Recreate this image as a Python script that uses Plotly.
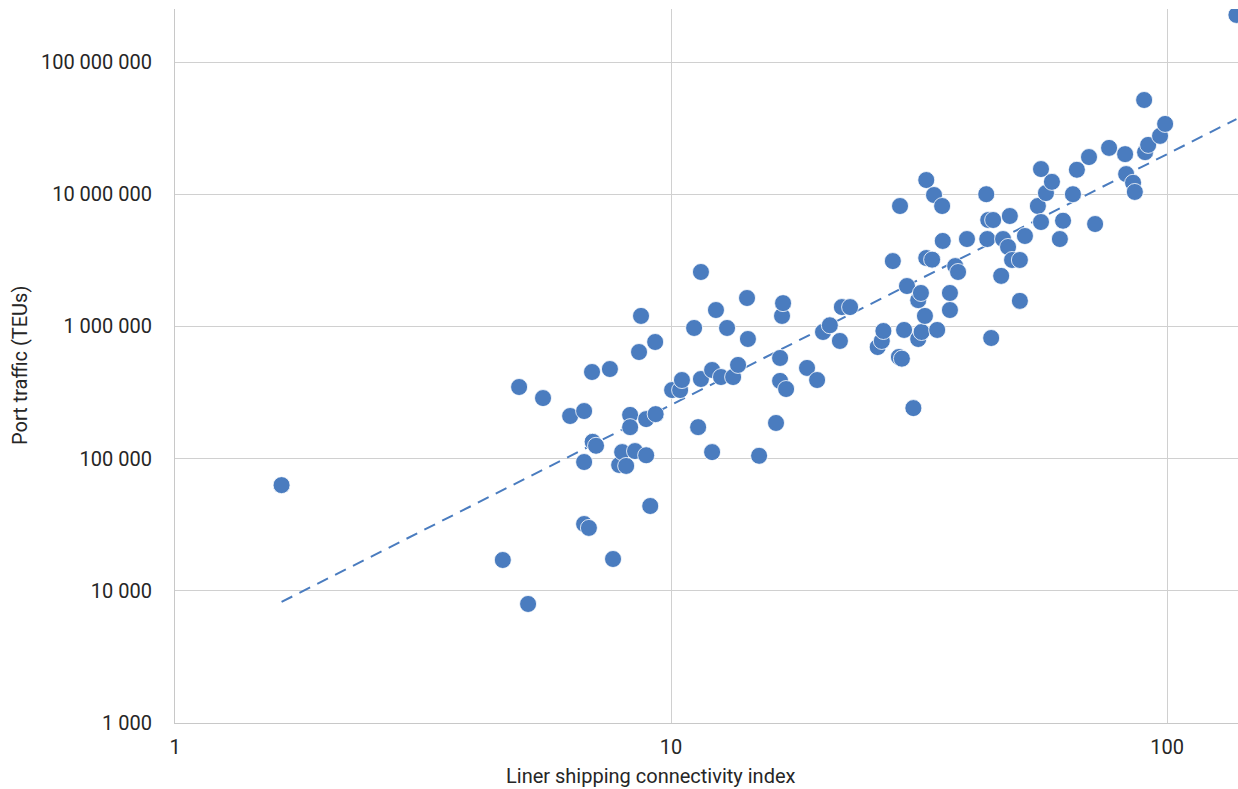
import numpy as np
import plotly.graph_objects as go

# Liner shipping connectivity index (x) vs port traffic in TEUs (y)
lsci = [1.64, 4.58, 4.94, 5.15, 5.52, 6.26, 6.68, 6.68, 6.68, 6.83,
        6.93, 6.95, 7.06, 7.53, 7.64, 7.86, 7.97, 8.12, 8.27, 8.27,
        8.46, 8.62, 8.70, 8.91, 8.91, 9.08, 9.29, 9.31, 10.05, 10.43,
        10.52, 11.13, 11.34, 11.49, 11.49, 12.1, 12.1, 12.32, 12.61, 12.97,
        13.34, 13.65, 14.23, 14.29, 15.05, 16.28, 16.59, 16.59, 16.74, 16.82,
        17.06, 18.8, 19.7, 20.25, 20.9, 21.9, 22.1, 22.96, 26.1, 26.6,
        26.8, 28.0, 28.8, 29.2, 28.95, 29.5, 29.9, 30.8, 31.5, 31.5,
        31.9, 32.0, 32.5, 32.7, 32.7, 33.6, 33.9, 34.4, 35.2, 35.3,
        36.5, 36.5, 37.4, 37.9, 39.5, 43.2, 43.4, 43.6, 44.6, 44.2,
        46.3, 46.7, 47.8, 48.2, 48.7, 50.5, 50.5, 51.7, 54.9, 55.7,
        55.7, 57.0, 58.6, 60.8, 61.7, 64.6, 65.8, 69.6, 71.6, 76.4,
        82.3, 82.7, 85.4, 86.1, 89.9, 90.3, 91.6, 96.8, 99.1, 138]

teu = [63000, 17100, 348000, 7950, 287000, 210000, 229000, 94200, 32000, 29900,
       452000, 134000, 125000, 476000, 17400, 89500, 112000, 88000, 214000, 173000,
       114000, 640000, 1200000, 106000, 199000, 43800, 762000, 217000, 330000, 330000,
       393000, 973000, 173000, 2580000, 400000, 468000, 112000, 1330000, 414000, 973000,
       414000, 511000, 1640000, 803000, 105000, 186000, 577000, 387000, 1200000, 1500000,
       336000, 485000, 393000, 907000, 1020000, 776000, 1400000, 1400000, 698000, 776000,
       923000, 3120000, 587000, 570000, 8140000, 940000, 2020000, 241000, 1580000, 803000,
       1790000, 907000, 1200000, 12800000, 3290000, 3200000, 9860000, 940000, 8140000, 4430000,
       1790000, 1330000, 2860000, 2580000, 4580000, 10000000, 4580000, 6380000, 6380000, 817000,
       2410000, 4580000, 3990000, 6840000, 3180000, 1560000, 3180000, 4830000, 8140000, 15500000,
       6160000, 10200000, 12400000, 4580000, 6300000, 10000000, 15300000, 19100000, 5950000, 22400000,
       20100000, 14200000, 12200000, 10400000, 51600000, 20800000, 23600000, 27600000, 34000000, 227000000]

x_ticks = [1, 10, 100]
x_tick_text = ["1", "10", "100"]
y_ticks = [1e3, 1e4, 1e5, 1e6, 1e7, 1e8]
y_tick_text = ["1 000", "10 000", "100 000", "1 000 000", "10 000 000", "100 000 000"]

x_title = "Liner shipping connectivity index"
y_title = "Port traffic (TEUs)"

BLUE = "#4a7cbf"
FONT = "Roboto, Liberation Sans, sans-serif"
TXT = "#262626"

# power-law trendline (least squares in log-log space)
lx = np.log10(lsci)
ly = np.log10(teu)
b, a = np.polyfit(lx, ly, 1)
tx = np.logspace(np.log10(min(lsci)), np.log10(max(lsci)), 100)
ty = 10 ** (a + b * np.log10(tx))

fig = go.Figure()
fig.add_trace(go.Scatter(
    x=tx, y=ty, mode="lines",
    line=dict(color=BLUE, width=2, dash="12px,8px"),
    hoverinfo="skip", showlegend=False))
fig.add_trace(go.Scatter(
    x=lsci, y=teu, mode="markers",
    marker=dict(color=BLUE, size=17, line=dict(color="white", width=0.8)),
    showlegend=False))

PLOT_H = 714
fig.update_layout(
    width=1238, height=789,
    margin=dict(l=175, r=0, t=9, b=66),
    paper_bgcolor="white", plot_bgcolor="white",
    font=dict(family=FONT, size=20, color=TXT),
    xaxis=dict(type="log", range=[0, 2.143],
               tickvals=x_ticks, ticktext=x_tick_text,
               showgrid=True, gridcolor="#d0d0d0", gridwidth=1,
               showline=True, linecolor="#c8c8c8", linewidth=1,
               ticks="", ticklabelstandoff=6, zeroline=False,
               tickfont=dict(family=FONT, size=20, color=TXT)),
    yaxis=dict(type="log", range=[3, 8.401],
               tickvals=y_ticks, ticktext=y_tick_text,
               showgrid=True, gridcolor="#d0d0d0", gridwidth=1,
               showline=True, linecolor="#c8c8c8", linewidth=1,
               ticks="", ticklabelstandoff=18, zeroline=False,
               tickfont=dict(family=FONT, size=20, color=TXT)),
    annotations=[
        dict(text=x_title, xref="paper", yref="paper",
             x=(651 - 175) / 1063, y=-(776 - 723) / PLOT_H,
             xanchor="center", yanchor="middle", showarrow=False,
             font=dict(family=FONT, size=20, color=TXT)),
        dict(text=y_title, xref="paper", yref="paper",
             x=(20 - 175) / 1063, y=(723 - 366) / PLOT_H,
             xanchor="center", yanchor="middle", showarrow=False, textangle=-90,
             font=dict(family=FONT, size=20, color=TXT)),
    ],
)

fig.write_html(
    "out.html",
    config={"displayModeBar": False},
    post_script="document.body.style.margin='0';document.body.style.overflow='hidden';",
)
